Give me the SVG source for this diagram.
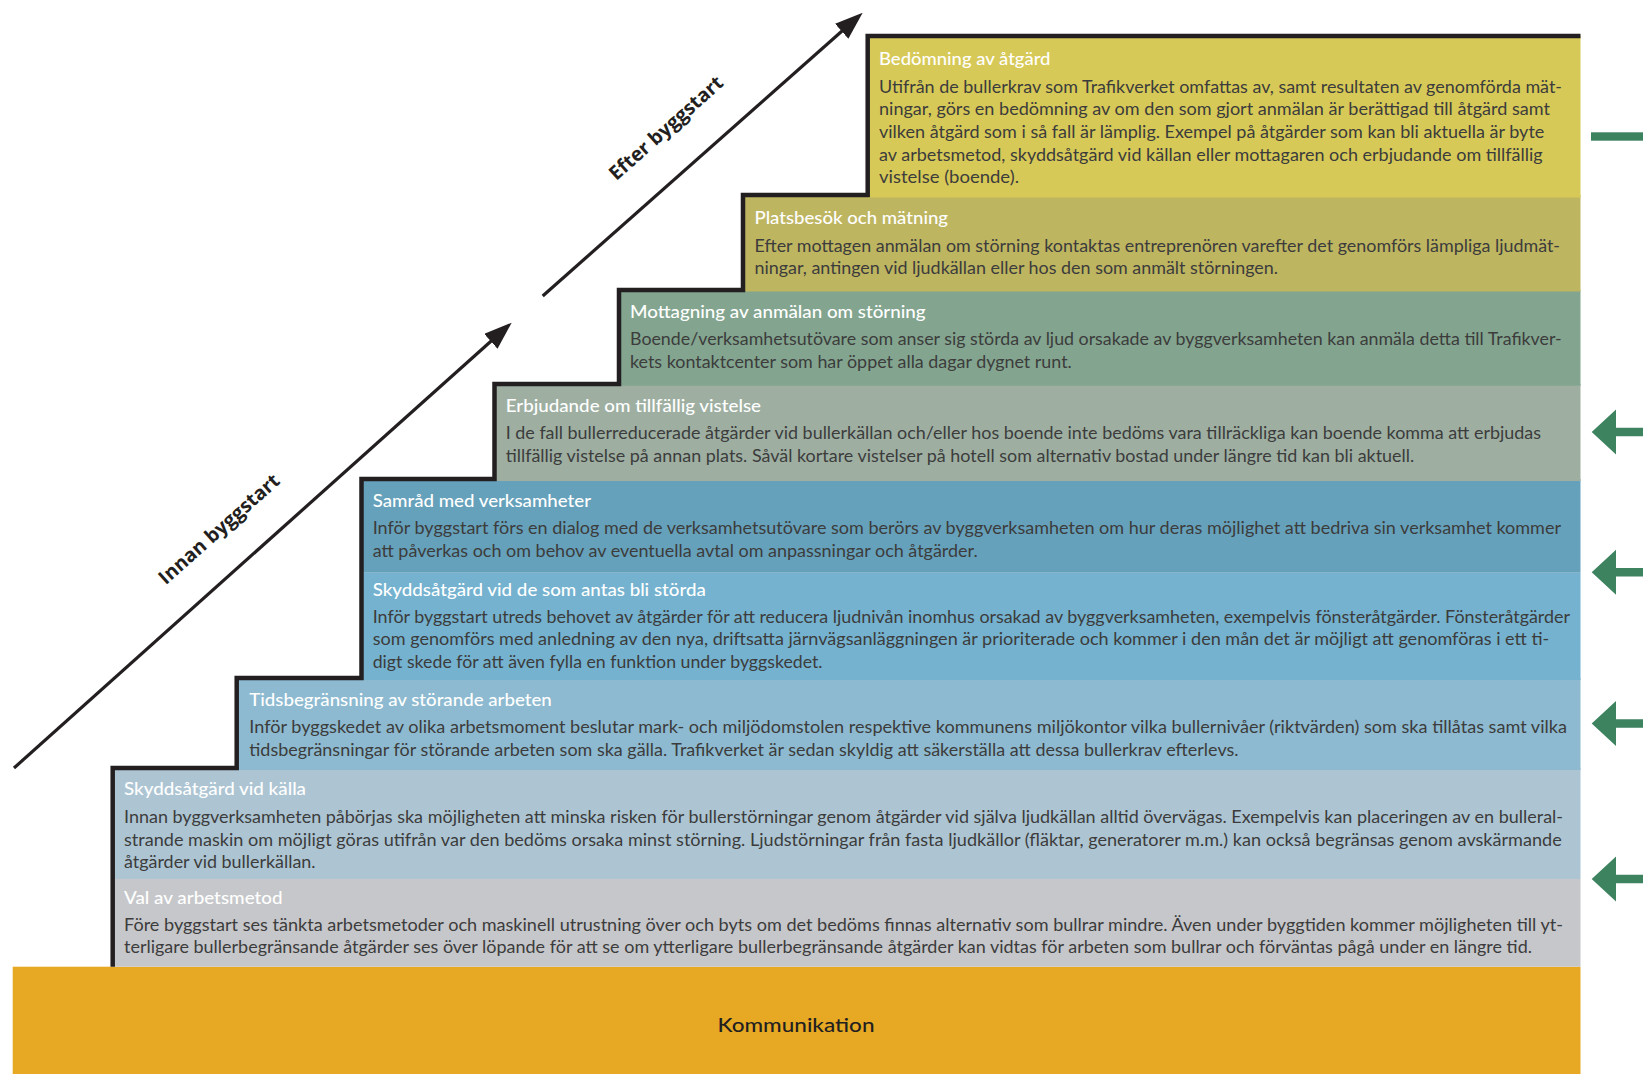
<svg xmlns="http://www.w3.org/2000/svg" width="1643" height="1074" viewBox="0 0 1643 1074">
<style>
.t{font-family:Lato,"Open Sans","Liberation Sans",sans-serif;font-size:17.5px;font-weight:500;fill:#ffffff}
.b{font-family:Lato,"Open Sans","Liberation Sans",sans-serif;font-size:17.5px;fill:#3c3c3c}
.lbl{font-family:"Open Sans",Lato,"Liberation Sans",sans-serif;font-size:19.5px;font-weight:700;fill:#231f20}
.k{font-family:Lato,"Open Sans","Liberation Sans",sans-serif;font-size:20px;font-weight:500;fill:#231f20}
.line{stroke:#231f20;stroke-width:3.2;fill:none}
.green{fill:#3e8360}
</style>
<defs>
<marker id="ah" markerUnits="userSpaceOnUse" viewBox="0 0 28 20" markerWidth="28" markerHeight="20" refX="8" refY="10" orient="auto">
<path d="M0,0 L28,10 L0,20 Z" fill="#231f20"/>
</marker>
</defs>

<g id="kommunikation">
<rect x="12.7" y="966.7" width="1567.8" height="108" fill="#e7a924"/>
<text class="k" x="796" y="1032" text-anchor="middle" textLength="157" lengthAdjust="spacingAndGlyphs">Kommunikation</text>
</g>

<g id="val-av-arbetsmetod">
<rect x="112.7" y="879" width="1467.8" height="87.7" fill="#c6c7ca"/>
<text class="t" x="124" y="903.5" textLength="158.6" lengthAdjust="spacingAndGlyphs">Val av arbetsmetod</text>
<text class="b" x="124" y="930.7" textLength="1439" lengthAdjust="spacingAndGlyphs">Före byggstart ses tänkta arbetsmetoder och maskinell utrustning över och byts om det bedöms finnas alternativ som bullrar mindre. Även under byggtiden kommer möjligheten till yt-</text>
<text class="b" x="124" y="953" textLength="1408" lengthAdjust="spacingAndGlyphs">terligare bullerbegränsande åtgärder ses över löpande för att se om ytterligare bullerbegränsande åtgärder kan vidtas för arbeten som bullrar och förväntas pågå under en längre tid.</text>
</g>

<g id="skyddsatgard-vid-kalla">
<rect x="112.7" y="768" width="1467.8" height="111" fill="#adc5d3"/>
<text class="t" x="124" y="795" textLength="182" lengthAdjust="spacingAndGlyphs">Skyddsåtgärd vid källa</text>
<text class="b" x="124" y="823" textLength="1439" lengthAdjust="spacingAndGlyphs">Innan byggverksamheten påbörjas ska möjligheten att minska risken för bullerstörningar genom åtgärder vid själva ljudkällan alltid övervägas. Exempelvis kan placeringen av en bulleral-</text>
<text class="b" x="124" y="845.7" textLength="1437.7" lengthAdjust="spacingAndGlyphs">strande maskin om möjligt göras utifrån var den bedöms orsaka minst störning. Ljudstörningar från fasta ljudkällor (fläktar, generatorer m.m.) kan också begränsas genom avskärmande</text>
<text class="b" x="124" y="868.3" textLength="191.6" lengthAdjust="spacingAndGlyphs">åtgärder vid bullerkällan.</text>
</g>

<g id="tidsbegransning">
<rect x="236.7" y="678" width="1343.8" height="92" fill="#8dbad0"/>
<text class="t" x="249.3" y="706" textLength="302.5" lengthAdjust="spacingAndGlyphs">Tidsbegränsning av störande arbeten</text>
<text class="b" x="249.3" y="733.3" textLength="1317.7" lengthAdjust="spacingAndGlyphs">Inför byggskedet av olika arbetsmoment beslutar mark- och miljödomstolen respektive kommunens miljökontor vilka bullernivåer (riktvärden) som ska tillåtas samt vilka</text>
<text class="b" x="249.3" y="755.5" textLength="989.2" lengthAdjust="spacingAndGlyphs">tidsbegränsningar för störande arbeten som ska gälla. Trafikverket är sedan skyldig att säkerställa att dessa bullerkrav efterlevs.</text>
</g>

<g id="skyddsatgard-storda">
<rect x="361.5" y="572.7" width="1219" height="107.3" fill="#74b2cf"/>
<text class="t" x="372.7" y="596" textLength="333.1" lengthAdjust="spacingAndGlyphs">Skyddsåtgärd vid de som antas bli störda</text>
<text class="b" x="372.7" y="622.7" textLength="1197.3" lengthAdjust="spacingAndGlyphs">Inför byggstart utreds behovet av åtgärder för att reducera ljudnivån inomhus orsakad av byggverksamheten, exempelvis fönsteråtgärder. Fönsteråtgärder</text>
<text class="b" x="372.7" y="645.3" textLength="1176.6" lengthAdjust="spacingAndGlyphs">som genomförs med anledning av den nya, driftsatta järnvägsanläggningen är prioriterade och kommer i den mån det är möjligt att genomföras i ett ti-</text>
<text class="b" x="372.7" y="668" textLength="449.8" lengthAdjust="spacingAndGlyphs">digt skede för att även fylla en funktion under byggskedet.</text>
</g>

<g id="samrad">
<rect x="361.5" y="479" width="1219" height="93.7" fill="#66a1bb"/>
<text class="t" x="372.7" y="507" textLength="218.3" lengthAdjust="spacingAndGlyphs">Samråd med verksamheter</text>
<text class="b" x="372.7" y="534.3" textLength="1188.3" lengthAdjust="spacingAndGlyphs">Inför byggstart förs en dialog med de verksamhetsutövare som berörs av byggverksamheten om hur deras möjlighet att bedriva sin verksamhet kommer</text>
<text class="b" x="372.7" y="556.8" textLength="605" lengthAdjust="spacingAndGlyphs">att påverkas och om behov av eventuella avtal om anpassningar och åtgärder.</text>
</g>

<g id="erbjudande">
<rect x="494.5" y="384" width="1086" height="97" fill="#9eafa2"/>
<text class="t" x="505.7" y="412" textLength="255.3" lengthAdjust="spacingAndGlyphs">Erbjudande om tillfällig vistelse</text>
<text class="b" x="505.7" y="439.3" textLength="1035.3" lengthAdjust="spacingAndGlyphs">I de fall bullerreducerade åtgärder vid bullerkällan och/eller hos boende inte bedöms vara tillräckliga kan boende komma att erbjudas</text>
<text class="b" x="505.7" y="462.3" textLength="908.6" lengthAdjust="spacingAndGlyphs">tillfällig vistelse på annan plats. Såväl kortare vistelser på hotell som alternativ bostad under längre tid kan bli aktuell.</text>
</g>

<g id="mottagning">
<rect x="619" y="290" width="961.5" height="95.7" fill="#83a58f"/>
<text class="t" x="630" y="318" textLength="295.6" lengthAdjust="spacingAndGlyphs">Mottagning av anmälan om störning</text>
<text class="b" x="630" y="345" textLength="931.7" lengthAdjust="spacingAndGlyphs">Boende/verksamhetsutövare som anser sig störda av ljud orsakade av byggverksamheten kan anmäla detta till Trafikver-</text>
<text class="b" x="630" y="368" textLength="441.8" lengthAdjust="spacingAndGlyphs">kets kontaktcenter som har öppet alla dagar dygnet runt.</text>
</g>

<g id="platsbesok">
<rect x="743" y="195" width="837.5" height="96.5" fill="#beb561"/>
<text class="t" x="754.5" y="224.3" textLength="193.5" lengthAdjust="spacingAndGlyphs">Platsbesök och mätning</text>
<text class="b" x="754.5" y="251.7" textLength="805.5" lengthAdjust="spacingAndGlyphs">Efter mottagen anmälan om störning kontaktas entreprenören varefter det genomförs lämpliga ljudmät-</text>
<text class="b" x="754.5" y="274.3" textLength="523.5" lengthAdjust="spacingAndGlyphs">ningar, antingen vid ljudkällan eller hos den som anmält störningen.</text>
</g>

<g id="bedomning">
<rect x="867.7" y="36" width="712.8" height="161.5" fill="#d7c957"/>
<text class="t" x="879" y="65" textLength="171.5" lengthAdjust="spacingAndGlyphs">Bedömning av åtgärd</text>
<text class="b" x="879" y="92.7" textLength="683" lengthAdjust="spacingAndGlyphs">Utifrån de bullerkrav som Trafikverket omfattas av, samt resultaten av genomförda mät-</text>
<text class="b" x="879" y="115.3" textLength="671" lengthAdjust="spacingAndGlyphs">ningar, görs en bedömning av om den som gjort anmälan är berättigad till åtgärd samt</text>
<text class="b" x="879" y="138" textLength="665.3" lengthAdjust="spacingAndGlyphs">vilken åtgärd som i så fall är lämplig. Exempel på åtgärder som kan bli aktuella är byte</text>
<text class="b" x="879" y="160.6" textLength="663.7" lengthAdjust="spacingAndGlyphs">av arbetsmetod, skyddsåtgärd vid källan eller mottagaren och erbjudande om tillfällig</text>
<text class="b" x="879" y="183.3" textLength="140" lengthAdjust="spacingAndGlyphs">vistelse (boende).</text>
</g>

<g id="steps-outline">
<path d="M112.7,966.7 V768 H236.7 V678 H361.5 V479 H494.5 V384 H619 V290 H743 V195 H867.7 V36 H1580.5" fill="none" stroke="#231f20" stroke-width="4.5" stroke-linejoin="miter"/>
</g>

<g id="connectors">
<line class="line" x1="14" y1="768" x2="496.8" y2="336" marker-end="url(#ah)"/>
<line class="line" x1="542.7" y1="296" x2="847.7" y2="26" marker-end="url(#ah)"/>
<rect class="green" x="1591" y="132.3" width="55" height="8.4"/>
<polygon class="green" points="1591.7,432 1616,409.5 1616,427.8 1645,427.8 1645,436.2 1616,436.2 1616,454.5"/>
<polygon class="green" points="1591.7,572.3 1616,549.8 1616,568.1 1645,568.1 1645,576.5 1616,576.5 1616,594.8"/>
<polygon class="green" points="1591.7,723.5 1616,701 1616,719.3 1645,719.3 1645,727.7 1616,727.7 1616,746"/>
<polygon class="green" points="1591.7,879 1616,856.5 1616,874.8 1645,874.8 1645,883.2 1616,883.2 1616,901.5"/>
</g>

<g id="labels">
<text class="lbl" transform="translate(223.5,534) rotate(-41.7)" text-anchor="middle">Innan byggstart</text>
<text class="lbl" transform="translate(670.5,133) rotate(-41.7)" text-anchor="middle">Efter byggstart</text>
</g>
</svg>
